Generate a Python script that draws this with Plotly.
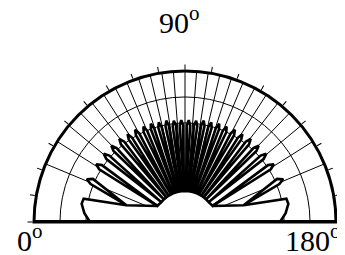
import numpy as np
import plotly.graph_objects as go

# ---------------- data (angles in degrees, 0 at left, 180 at right; r relative to outer circle) ----
start_theta = [0, 0, 5, 10, 13]
start_r = [0.0, 0.629, 0.669, 0.695, 0.689]

tip_theta = [23.5, 33.0, 40.0, 46.0, 51.7, 56.8, 61.6, 66.4, 70.8, 75.2, 79.5, 83.7, 87.9,
             92.1, 96.3, 100.5, 104.8, 109.2, 113.6, 118.4, 123.2, 128.3, 134.0, 140.0, 147.0, 156.5]
tip_r = [0.709, 0.702, 0.702, 0.702, 0.702, 0.695, 0.695, 0.689, 0.689, 0.682, 0.682, 0.675, 0.675,
         0.675, 0.675, 0.682, 0.682, 0.689, 0.689, 0.695, 0.695, 0.702, 0.702, 0.702, 0.702, 0.709]
base_theta = [16.0, 30.0, 40.0, 47.0, 53.0, 58.0, 63.0, 67.5, 72.0, 76.0, 80.0, 84.0, 88.0,
              92.0, 96.0, 100.0, 104.0, 108.0, 112.5, 117.0, 122.0, 127.0, 133.0, 140.0, 150.0, 164.0]
base_r = [0.404, 0.212, 0.205, 0.205, 0.205, 0.205, 0.205, 0.205, 0.205, 0.205, 0.205, 0.205, 0.205,
          0.205, 0.205, 0.205, 0.205, 0.205, 0.205, 0.205, 0.205, 0.205, 0.205, 0.205, 0.212, 0.404]
lobe_halfwidth = [1.6, 1.4, 1.3, 1.2, 1.2, 1.1, 1.1, 1.1, 1.0, 1.0, 1.0, 1.0, 1.0,
                  1.0, 1.0, 1.0, 1.0, 1.0, 1.1, 1.1, 1.1, 1.2, 1.2, 1.3, 1.4, 1.6]
end_theta = [167, 170, 175, 180, 180]
end_r = [0.689, 0.695, 0.669, 0.629, 0.0]

circle_r = [0.656, 0.828]
spoke_divisions = 13
tick_step = 10

# ---------------- build pattern outline ----------------
th, rr = list(start_theta), list(start_r)
for bt, br, tt, tr, hw in zip(base_theta, base_r, tip_theta, tip_r, lobe_halfwidth):
    th += [bt, tt - hw, tt, tt + hw, bt]
    rr += [br, tr * 0.95, tr, tr * 0.95, br]
th += end_theta
rr += end_r

# spokes (grid) uniform in cos(theta)
sp_t, sp_r = [], []
for k in range(-spoke_divisions + 1, spoke_divisions):
    a = float(np.degrees(np.arccos(k / spoke_divisions)))
    sp_t += [a, a, None]
    sp_r += [0, 1, None]

fig = go.Figure()
fig.add_trace(go.Scatterpolar(theta=sp_t, r=sp_r, mode="lines",
                              line=dict(color="black", width=1), hoverinfo="skip"))
fig.add_trace(go.Scatterpolar(theta=th, r=rr, mode="lines", fill="toself", fillcolor="white",
                              line=dict(color="black", width=2.6), hoverinfo="skip"))
fig.add_trace(go.Scatterpolar(theta=[0, 0, 180], r=[1, 0, 1], mode="lines", cliponaxis=False,
                              line=dict(color="black", width=4), hoverinfo="skip"))

W, H = 345, 255
fig.update_layout(
    width=W, height=H, margin=dict(l=0, r=0, t=0, b=0),
    paper_bgcolor="white", showlegend=False,
    polar=dict(
        domain=dict(x=[26 / W, 328 / W], y=[(H - 214) / H, (H - 63) / H]),
        sector=[0, 180], bgcolor="white",
        angularaxis=dict(rotation=180, direction="clockwise", showgrid=False,
                         ticks="outside", ticklen=5, tickwidth=1, tickcolor="black",
                         dtick=tick_step, tick0=0, showticklabels=False,
                         showline=True, linewidth=3, linecolor="black"),
        radialaxis=dict(range=[0, 1], tickvals=circle_r, showticklabels=False, ticks="",
                        showline=False, showgrid=True, gridcolor="black", gridwidth=1),
    ),
)
font = dict(family="Liberation Serif", size=30, color="black")
for txt, x, y, xa in [("0<sup>o</sup>", 7, 230, "left"), ("180<sup>o</sup>", 335, 230, "right"),
                      ("90<sup>o</sup>", 171, 12, "center")]:
    fig.add_annotation(text=txt, x=x / W, y=1 - y / H, xref="paper", yref="paper",
                       xanchor=xa, yanchor="middle", showarrow=False, font=font)

fig.write_html("out.html")
